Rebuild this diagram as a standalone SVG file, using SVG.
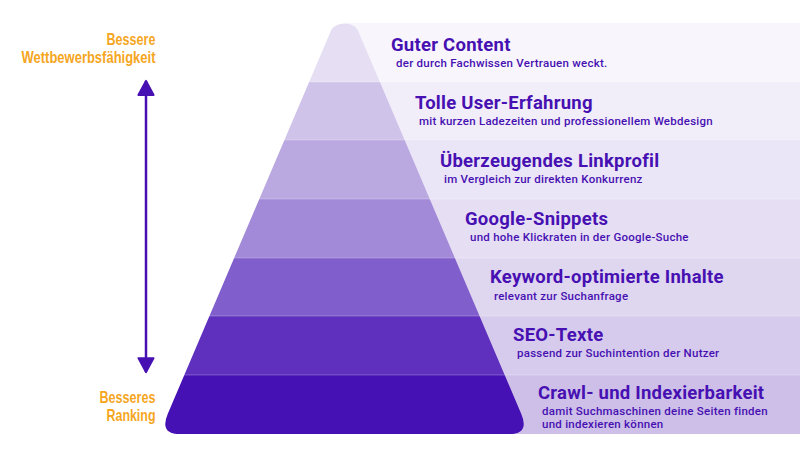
<svg xmlns="http://www.w3.org/2000/svg" width="800" height="450" viewBox="0 0 800 450">
<defs>
<style>
.t{font-family:Roboto,"Liberation Sans",sans-serif;font-weight:700;font-size:18.5px;letter-spacing:0.25px;fill:#4710b2}
.s{font-family:Roboto,"Liberation Sans",sans-serif;font-weight:500;font-size:11.5px;letter-spacing:0.25px;fill:#4710b2}
.o{font-family:"Liberation Sans",Roboto,sans-serif;font-weight:700;font-size:17px;fill:#f5a61e;text-anchor:end}
.sep{stroke:#ffffff;stroke-opacity:0.25;stroke-width:1}
</style>
<clipPath id="pyr">
<path d="M330.4 32 C334 20.5 355 20.5 358.6 32 L521.3 414 Q529.8 434 509 434 L180 434 Q159.2 434 167.7 414 Z"/>
</clipPath>
<marker id="ah" viewBox="0 0 10 10" refX="9" refY="5" markerWidth="7" markerHeight="7.6" orient="auto-start-reverse" markerUnits="strokeWidth">
<path d="M1 0.6 L9.2 5 L1 9.4 Z" fill="#4710b2" stroke="#4710b2" stroke-width="1" stroke-linejoin="round"/>
</marker>
</defs>
<rect width="800" height="450" fill="#ffffff"/>

<g id="layer1">
<rect x="344.5" y="23" width="455.5" height="59" fill="#f8f6fc"/>
<rect x="150" y="0" width="400" height="82" fill="#e6dff4" clip-path="url(#pyr)"/>
<text class="t" x="391" y="51">Guter Content</text>
<text class="s" x="396" y="67">der durch Fachwissen Vertrauen weckt.</text>
</g>
<g id="layer2">
<rect x="344.5" y="82" width="455.5" height="58" fill="#f1edf9"/>
<rect x="150" y="82" width="400" height="58" fill="#d0c3ea" clip-path="url(#pyr)"/>
<text class="t" x="415" y="109">Tolle User-Erfahrung</text>
<text class="s" x="419" y="125">mit kurzen Ladezeiten und professionellem Webdesign</text>
</g>
<g id="layer3">
<rect x="344.5" y="140" width="455.5" height="59" fill="#ebe6f7"/>
<rect x="150" y="140" width="400" height="59" fill="#baa8e0" clip-path="url(#pyr)"/>
<text class="t" x="440" y="167">Überzeugendes Linkprofil</text>
<text class="s" x="444" y="183">im Vergleich zur direkten Konkurrenz</text>
</g>
<g id="layer4">
<rect x="344.5" y="199" width="455.5" height="59" fill="#e6dff4"/>
<rect x="150" y="199" width="400" height="59" fill="#a28ad8" clip-path="url(#pyr)"/>
<text class="t" x="465" y="225">Google-Snippets</text>
<text class="s" x="470" y="241">und hohe Klickraten in der Google-Suche</text>
</g>
<g id="layer5">
<rect x="344.5" y="258" width="455.5" height="58" fill="#dfd6f0"/>
<rect x="150" y="258" width="400" height="58" fill="#805ecb" clip-path="url(#pyr)"/>
<text class="t" x="490" y="283">Keyword-optimierte Inhalte</text>
<text class="s" x="494" y="300">relevant zur Suchanfrage</text>
</g>
<g id="layer6">
<rect x="344.5" y="316" width="455.5" height="59" fill="#d6cbec"/>
<rect x="150" y="316" width="400" height="59" fill="#5e30bd" clip-path="url(#pyr)"/>
<text class="t" x="513" y="341">SEO-Texte</text>
<text class="s" x="517" y="357">passend zur Suchintention der Nutzer</text>
</g>
<g id="layer7">
<rect x="344.5" y="375" width="455.5" height="59" fill="#cdbfe7"/>
<rect x="150" y="375" width="400" height="60" fill="#4510b4" clip-path="url(#pyr)"/>
<text class="t" x="538" y="399">Crawl- und Indexierbarkeit</text>
<text class="s" x="542" y="415">damit Suchmaschinen deine Seiten finden</text>
<text class="s" x="542" y="428">und indexieren können</text>
</g>

<g id="separators">
<line class="sep" x1="150" y1="82" x2="800" y2="82"/>
<line class="sep" x1="150" y1="140" x2="800" y2="140"/>
<line class="sep" x1="150" y1="199" x2="800" y2="199"/>
<line class="sep" x1="150" y1="258" x2="800" y2="258"/>
<line class="sep" x1="150" y1="316" x2="800" y2="316"/>
<line class="sep" x1="150" y1="375" x2="800" y2="375"/>
</g>

<g id="label-top">
<text class="o" x="155.5" y="45" textLength="49" lengthAdjust="spacingAndGlyphs">Bessere</text>
<text class="o" x="155.5" y="63" textLength="134" lengthAdjust="spacingAndGlyphs">Wettbewerbsfähigkeit</text>
</g>
<g id="label-bottom">
<text class="o" x="155.5" y="403" textLength="56" lengthAdjust="spacingAndGlyphs">Besseres</text>
<text class="o" x="155.5" y="421" textLength="49" lengthAdjust="spacingAndGlyphs">Ranking</text>
</g>

<g id="connectors">
<line x1="146" y1="81" x2="146" y2="372" stroke="#4710b2" stroke-width="2.5" marker-start="url(#ah)" marker-end="url(#ah)"/>
</g>
</svg>
